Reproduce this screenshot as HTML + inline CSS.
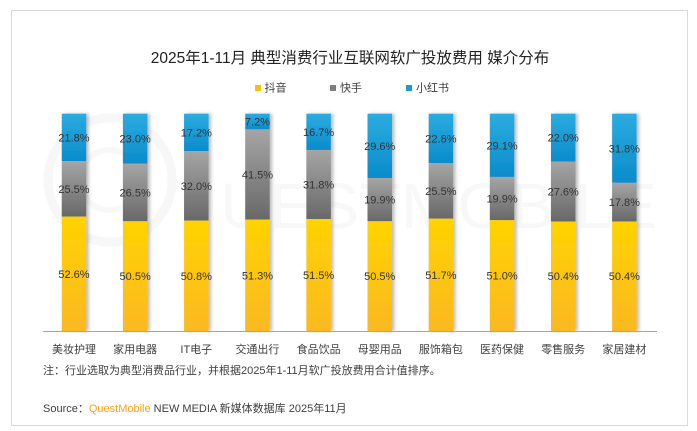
<!DOCTYPE html>
<html><head><meta charset="utf-8"><style>
html,body{margin:0;padding:0;background:#fff;}
svg{display:block;}
text{font-family:"Liberation Sans","Noto Sans CJK SC",sans-serif;}
</style></head><body>
<svg width="697" height="431" viewBox="0 0 697 431" xmlns="http://www.w3.org/2000/svg">
<defs>
<linearGradient id="gb" x1="0" y1="0" x2="0" y2="1"><stop offset="0" stop-color="#2babe0"/><stop offset="1" stop-color="#0a8ccb"/></linearGradient>
<linearGradient id="gg" x1="0" y1="0" x2="0" y2="1"><stop offset="0" stop-color="#a5a5a5"/><stop offset="1" stop-color="#686868"/></linearGradient>
<linearGradient id="gy" x1="0" y1="0" x2="0" y2="1"><stop offset="0" stop-color="#ffd300"/><stop offset="1" stop-color="#fbb822"/></linearGradient>
<filter id="sh" x="-20%" y="-5%" width="160%" height="110%"><feDropShadow dx="2.5" dy="0" stdDeviation="1.5" flood-color="#888" flood-opacity="0.55"/></filter>
</defs>
<rect x="0" y="0" width="697" height="431" fill="#fff"/>
<rect x="11.5" y="10.5" width="676" height="415" fill="#fff" stroke="#d9d9d9" stroke-width="1"/>
<!-- watermark -->
<circle cx="110" cy="180" r="62" fill="none" stroke="#f7f7f7" stroke-width="9"/>
<circle cx="110" cy="180" r="30" fill="none" stroke="#f8f8f8" stroke-width="6"/>
<text x="220" y="228" font-size="64" fill="#f8f8f8" textLength="437" lengthAdjust="spacingAndGlyphs">UESTMOBILE</text>
<!-- title -->
<text x="350" y="63" font-size="15.5" fill="#222" text-anchor="middle">2025年1-11月 典型消费行业互联网软广投放费用 媒介分布</text>
<!-- legend -->
<rect x="255" y="85" width="6" height="6" fill="#fbc000"/>
<text x="264.5" y="91.5" font-size="11" fill="#404040">抖音</text>
<rect x="330" y="85" width="6" height="6" fill="#7f7f7f"/>
<text x="340" y="91.5" font-size="11" fill="#404040">快手</text>
<rect x="406" y="85" width="6" height="6" fill="#1a9ad6"/>
<text x="416" y="91.5" font-size="11" fill="#404040">小红书</text>
<g id="bars"></g>
<line x1="43" y1="331.5" x2="657" y2="331.5" stroke="#a6a6a6" stroke-width="1"/>
<g id="labels"></g>
<text x="43" y="374" font-size="11" fill="#404040">注：行业选取为典型消费品行业，并根据2025年1-11月软广投放费用合计值排序。</text>
<text x="43" y="412" font-size="11" fill="#404040">Source：<tspan fill="#f5a31a">QuestMobile</tspan> NEW MEDIA 新媒体数据库 2025年11月</text>
</svg>
<script>
(function(){
var data=[["美妆护理",52.6,25.5,21.8],["家用电器",50.5,26.5,23.0],["IT电子",50.8,32.0,17.2],["交通出行",51.3,41.5,7.2],["食品饮品",51.5,31.8,16.7],["母婴用品",50.5,19.9,29.6],["服饰箱包",51.7,25.5,22.8],["医药保健",51.0,19.9,29.1],["零售服务",50.4,27.6,22.0],["家居建材",50.4,17.8,31.8]];
var ns="http://www.w3.org/2000/svg";
var bars=document.getElementById("bars"),labels=document.getElementById("labels");
var top=113.7,bot=331,H=bot-top,w=24.5;
function el(t,a,p){var e=document.createElementNS(ns,t);for(var k in a)e.setAttribute(k,a[k]);p.appendChild(e);return e;}
data.forEach(function(d,i){
 var cx=74+61.15*i,x=cx-w/2;
 var s=d[1]+d[2]+d[3];
 var hy=H*d[1]/s,hg=H*d[2]/s,hb=H*d[3]/s;
 var g=el("g",{filter:"url(#sh)"},bars);
 var yb=top,yg=top+hb,yy=top+hb+hg;
 el("rect",{x:x,y:yb,width:w,height:hb,fill:"url(#gb)"},g);
 el("rect",{x:x,y:yg,width:w,height:hg,fill:"url(#gg)"},g);
 el("rect",{x:x,y:yy,width:w,height:bot-yy,fill:"url(#gy)"},g);
 [[yb,hb,d[3]],[yg,hg,d[2]],[yy,bot-yy,d[1]]].forEach(function(v){
  var t=el("text",{x:cx,y:v[0]+v[1]/2+4,"font-size":"11",fill:"#333","text-anchor":"middle"},labels);
  t.textContent=v[2].toFixed(1)+"%";
 });
 var c=el("text",{x:cx,y:353,"font-size":"11",fill:"#404040","text-anchor":"middle"},labels);
 c.textContent=d[0];
});
})();
</script>
</body></html>
